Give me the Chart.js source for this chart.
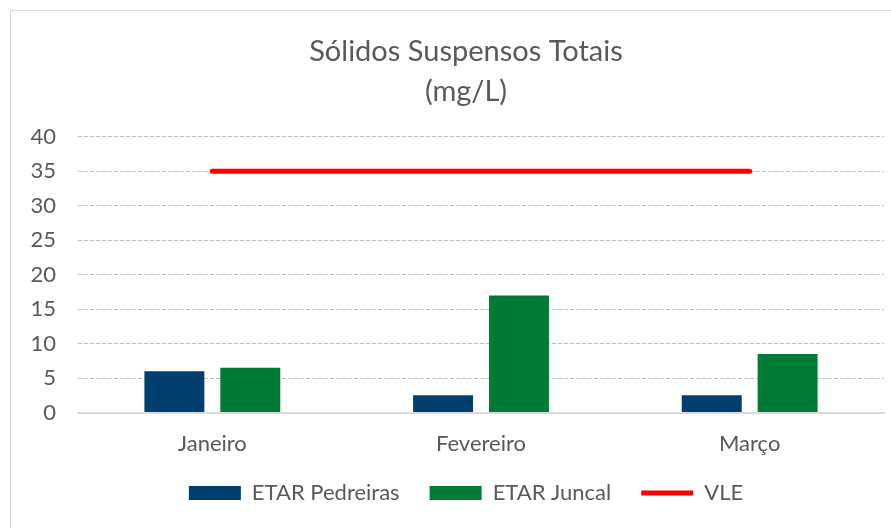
<!DOCTYPE html>
<html>
<head>
<meta charset="utf-8">
<script src="https://cdn.jsdelivr.net/npm/chart.js@4"></script>
<style>
  html, body { margin: 0; padding: 0; background: #fff; overflow: hidden; }
  #card { position: absolute; left: 10px; top: 10px; width: 940px; height: 540px; border: 1px solid #d9d9d9; }
  #wrap { position: absolute; left: 0; top: 0; width: 910px; height: 517px; }
</style>
</head>
<body>
<div id="card"><div id="wrap"><canvas id="sstChart"></canvas></div></div>
<script>
var months = ["Janeiro", "Fevereiro", "Março"];
var pedreiras = [6, 2.5, 2.5];
var juncal = [6.5, 17, 8.5];
var vle = [35, 35, 35];
var yTicks = [0, 5, 10, 15, 20, 25, 30, 35, 40];

document.addEventListener("DOMContentLoaded", function() {
    var ctx = document.getElementById("sstChart").getContext("2d");
    var fontFamily = "Lato, 'Open Sans', sans-serif";

    var data = {
    labels: months,
    datasets: [
        {
        label: "ETAR Pedreiras",
        data: pedreiras,
        backgroundColor: "#003f6e",
        borderWidth: 0,
        categoryPercentage: 0.565,
        barPercentage: 0.79
        },
        {
        label: "ETAR Juncal",
        data: juncal,
        backgroundColor: "#007a37",
        borderWidth: 0,
        categoryPercentage: 0.565,
        barPercentage: 0.79
        },
        {
        type: "line",
        label: "VLE",
        data: vle,
        borderColor: "#ff0000",
        backgroundColor: "#ff0000",
        borderWidth: 5,
        borderCapStyle: "round",
        pointRadius: 0,
        pointStyle: "line",
        fill: false
        }
    ]
    };

    var options = {
    responsive: true,
    maintainAspectRatio: false,
    animation: false,
    layout: { padding: { left: 0, right: 0, top: 0, bottom: 14 } },
    plugins: {
        title: {
        display: true,
        text: ["Sólidos Suspensos Totais", "(mg/L)"],
        color: "#595959",
        font: { family: fontFamily, size: 29, weight: "normal", lineHeight: 1.36 },
        padding: { top: 21, bottom: 26 }
        },
        legend: {
        position: "bottom",
        labels: {
            color: "#595959",
            font: { family: fontFamily, size: 22 },
            usePointStyle: true,
            pointStyleWidth: 52,
            boxHeight: 14,
            padding: 30,
            generateLabels: function(chart) {
            var items = Chart.defaults.plugins.legend.labels.generateLabels(chart);
            items.forEach(function(item, i) {
                item.pointStyle = i === 2 ? "line" : "rect";
            });
            return items;
            }
        }
        },
        tooltip: { enabled: false }
    },
    scales: {
        x: {
        grid: { display: false },
        border: { color: "#d9d9d9", width: 2 },
        ticks: { color: "#595959", font: { family: fontFamily, size: 22 }, padding: 10 },
        afterFit: function(axis) {
            axis.height -= 15;
            // keep descenders (ç) visible after shrinking the axis box
            axis._computeLabelArea = function() { return undefined; };
        }
        },
        y: {
        min: 0,
        max: 40,
        afterBuildTicks: function(axis) {
            axis.ticks = yTicks.map(function(v) { return { value: v }; });
        },
        afterFit: function(axis) { axis.width = 67; },
        border: { display: false, dash: [4, 2] },
        grid: {
            color: function(c) { return c.tick && c.tick.value === 0 ? "rgba(0,0,0,0)" : "#bfbfbf"; },
            drawTicks: false
        },
        ticks: { color: "#595959", font: { family: fontFamily, size: 22 }, padding: 22 }
        },
        yRight: {
        position: "right",
        grid: { display: false },
        border: { display: false },
        ticks: { display: false },
        afterFit: function(axis) { axis.width = 37; }
        }
    }
    };

    var sstChart = new Chart(ctx, {
    type: "bar",
    data: data,
    options: options
    });
});
</script>
</body>
</html>
